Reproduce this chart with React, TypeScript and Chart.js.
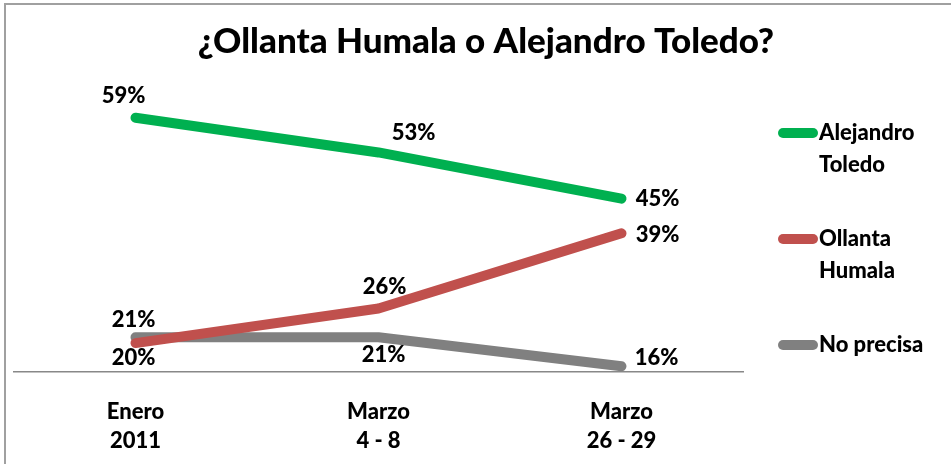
import { useEffect, useRef } from "react";
import { Chart, registerables } from "chart.js";
Chart.register(...registerables);

const categories = [["Enero", "2011"], ["Marzo", "4 - 8"], ["Marzo", "26 - 29"]];
const seriesNames = ["Alejandro Toledo", "Ollanta Humala", "No precisa"];
const legendLines = [["Alejandro", "Toledo"], ["Ollanta", "Humala"], ["No precisa"]];
const toledo = [59, 53, 45];
const humala = [20, 26, 39];
const noPrecisa = [21, 21, 16];
const colors = ["#00B050", "#C0504D", "#808080"];
const titleText = "¿Ollanta Humala o Alejandro Toledo?";
// label offsets relative to each point (dx, dy)
const labelOffsets = [
  [[-12, -22], [35, -20], [36, 0]],
  [[-2, 15], [6, -22], [36, 2]],
  [[-2, -17], [5, 18], [35, -8]],
];

const FONT = "Lato, 'Open Sans', sans-serif";

const decor = {
  id: "decor",
  afterDatasetsDraw(chart: any) {
    const ctx = chart.ctx as CanvasRenderingContext2D;
    const area = chart.chartArea;
    ctx.save();
    // data labels
    ctx.font = `900 22px ${FONT}`;
    ctx.fillStyle = "#000";
    ctx.textAlign = "center";
    ctx.textBaseline = "middle";
    chart.data.datasets.forEach((ds: any, i: number) => {
      const meta = chart.getDatasetMeta(i);
      meta.data.forEach((pt: any, j: number) => {
        const [dx, dy] = labelOffsets[i][j];
        ctx.fillText(ds.data[j] + "%", pt.x + dx, pt.y + dy);
      });
    });
    // title
    ctx.font = `900 35px ${FONT}`;
    ctx.fillText(titleText, 486, 42);
    // legend
    const lx = area.right + 35;
    legendLines.forEach((lines, i) => {
      const y = area.top + 21 + i * 106;
      ctx.strokeStyle = colors[i];
      ctx.lineWidth = 10;
      ctx.lineCap = "round";
      ctx.beginPath();
      ctx.moveTo(lx + 5, y);
      ctx.lineTo(lx + 35, y);
      ctx.stroke();
      ctx.font = `900 22px ${FONT}`;
      ctx.textAlign = "left";
      ctx.fillStyle = "#000";
      lines.forEach((t, k) => ctx.fillText(t, lx + 41, y + k * 32));
    });
    // frame
    ctx.strokeStyle = "#a0a0a0";
    ctx.lineWidth = 2;
    ctx.lineCap = "butt";
    ctx.beginPath();
    ctx.moveTo(5, 464);
    ctx.lineTo(5, 4);
    ctx.lineTo(951, 4);
    ctx.stroke();
    ctx.restore();
  },
};

export default function App() {
  const ref = useRef<HTMLCanvasElement>(null);
  useEffect(() => {
    const seriesData = [toledo, humala, noPrecisa];
    const chart = new Chart(ref.current!, {
      type: "line",
      data: {
        labels: categories as any,
        datasets: seriesNames.map((name, i) => ({
          label: name,
          data: seriesData[i],
          borderColor: colors[i],
          backgroundColor: colors[i],
          borderWidth: 10,
          borderCapStyle: "round" as const,
          borderJoinStyle: "round" as const,
          pointRadius: 0,
          tension: 0,
        })),
      },
      options: {
        animation: false,
        responsive: true,
        maintainAspectRatio: false,
        layout: { padding: { left: 14, right: 208, top: 112, bottom: 0 } },
        plugins: {
          legend: { display: false },
          title: { display: false },
          tooltip: { enabled: false },
        },
        scales: {
          x: {
            offset: true,
            grid: { display: true, drawOnChartArea: false, drawTicks: false },
            border: { display: true, color: "#888888", width: 1.5 },
            ticks: {
              color: "#000",
              font: { family: FONT, size: 22, weight: "900", lineHeight: 1.3 },
              padding: 26,
              maxRotation: 0,
              autoSkip: false,
            },
            afterFit(scale: any) {
              scale.height = 92;
            },
          },
          y: {
            display: false,
            min: 15,
            max: 60,
          },
        },
      },
      plugins: [decor],
    });
    return () => chart.destroy();
  }, []);
  return (
    <div style={{ position: "fixed", left: 0, top: 0, width: 951, height: 464, background: "#fff" }}>
      <canvas ref={ref} />
    </div>
  );
}
